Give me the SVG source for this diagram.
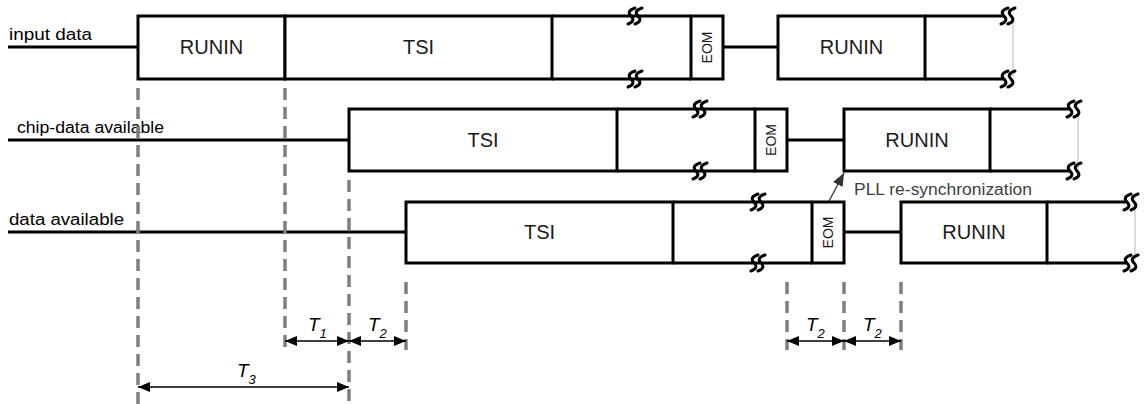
<svg xmlns="http://www.w3.org/2000/svg" width="1145" height="404" viewBox="0 0 1145 404">
<defs>
<style>
.box{fill:#fff;stroke:#000;stroke-width:3}
.ln{stroke:#000;stroke-width:3;fill:none}
.thin{stroke:#b8b8b8;stroke-width:1}
.dash{stroke:#7f7f7f;stroke-width:3.5;stroke-dasharray:12 7;fill:none}
.dim{stroke:#000;stroke-width:1.3;marker-start:url(#ah);marker-end:url(#ah)}
.bt{font-family:"Liberation Sans",Arial,sans-serif;font-size:20px;fill:#1a1a1a;text-anchor:middle}
.lbl{font-family:"Liberation Sans",Arial,sans-serif;font-size:16px;fill:#000}
.eom{font-family:"Liberation Sans",Arial,sans-serif;font-size:14px;fill:#1a1a1a;text-anchor:middle}
.tl{font-family:"Liberation Sans",Arial,sans-serif;font-style:italic;font-size:19px;fill:#000}
.sub{font-size:13px}
.brk{stroke:#000;stroke-width:3;fill:none;stroke-linecap:round}
.pll{font-family:"Liberation Sans",Arial,sans-serif;font-size:16px;fill:#404040}
</style>
<marker id="ah" viewBox="0 0 12 10" refX="12" refY="5" markerWidth="12" markerHeight="10" markerUnits="userSpaceOnUse" orient="auto-start-reverse"><path d="M0,0 L12,5 L0,10 Z" fill="#000"/></marker>
<marker id="pa" viewBox="0 0 12 10" refX="12" refY="5" markerWidth="13" markerHeight="11" markerUnits="userSpaceOnUse" orient="auto"><path d="M0,0 L12,5 L0,10 Z" fill="#333"/></marker>
<g id="bk" class="brk"><path d="M4,-8 Q-5,-5 0,0 Q5,5 -3,8"/><path d="M11,-8 Q2,-5 7,0 Q12,5 4,8"/></g>
</defs>
<rect width="1145" height="404" fill="#fff"/>

<g id="labels">
<text class="lbl" x="9" y="40" textLength="83" lengthAdjust="spacingAndGlyphs">input data</text>
<text class="lbl" x="17" y="133" textLength="147" lengthAdjust="spacingAndGlyphs">chip-data available</text>
<text class="lbl" x="9" y="225" textLength="115" lengthAdjust="spacingAndGlyphs">data available</text>
</g>

<g id="connectors">
<line class="ln" x1="8" y1="47" x2="138" y2="47"/>
<line class="ln" x1="723" y1="47" x2="778" y2="47"/>
<line class="ln" x1="8" y1="140" x2="349" y2="140"/>
<line class="ln" x1="787" y1="140" x2="844" y2="140"/>
<line class="ln" x1="8" y1="232" x2="406" y2="232"/>
<line class="ln" x1="844" y1="232" x2="901" y2="232"/>
<line x1="829" y1="201" x2="844" y2="173" stroke="#333" stroke-width="1.3" marker-end="url(#pa)"/>
</g>

<g id="row1">
<g id="r1-runin"><rect class="box" x="138" y="16" width="147" height="63"/><text class="bt" x="211.5" y="54">RUNIN</text></g>
<g id="r1-tsi"><rect class="box" x="285" y="16" width="267" height="63"/><text class="bt" x="418.5" y="54">TSI</text></g>
<g id="r1-seg"><path class="ln" d="M552,16 H691 M552,79 H691"/><use href="#bk" x="631" y="16"/><use href="#bk" x="631" y="79"/></g>
<g id="r1-eom"><rect class="box" x="691" y="16" width="32" height="63"/><text class="eom" transform="translate(712,47.5) rotate(-90)">EOM</text></g>
<g id="r1-runin2"><rect class="box" x="778" y="16" width="147" height="63"/><text class="bt" x="851.5" y="54">RUNIN</text></g>
<g id="r1-tail"><path class="ln" d="M925,16 H1004 M925,79 H1004"/><line class="thin" x1="1013" y1="18" x2="1013" y2="77"/><use href="#bk" x="1004" y="16"/><use href="#bk" x="1004" y="79"/></g>
</g>

<g id="row2">
<g id="r2-tsi"><rect class="box" x="349" y="109" width="268" height="62"/><text class="bt" x="483" y="147">TSI</text></g>
<g id="r2-seg"><path class="ln" d="M617,109 H755 M617,171 H755"/><use href="#bk" x="696" y="109"/><use href="#bk" x="696" y="171"/></g>
<g id="r2-eom"><rect class="box" x="755" y="109" width="32" height="62"/><text class="eom" transform="translate(776,140) rotate(-90)">EOM</text></g>
<g id="r2-runin"><rect class="box" x="844" y="109" width="146" height="62"/><text class="bt" x="917" y="147">RUNIN</text></g>
<g id="r2-tail"><path class="ln" d="M990,109 H1070 M990,171 H1070"/><line class="thin" x1="1078" y1="111" x2="1078" y2="169"/><use href="#bk" x="1070" y="109"/><use href="#bk" x="1070" y="171"/></g>
</g>

<g id="row3">
<g id="r3-tsi"><rect class="box" x="406" y="202" width="267" height="61"/><text class="bt" x="539.5" y="239">TSI</text></g>
<g id="r3-seg"><path class="ln" d="M673,202 H812 M673,263 H812"/><use href="#bk" x="754" y="202"/><use href="#bk" x="754" y="263"/></g>
<g id="r3-eom"><rect class="box" x="812" y="202" width="32" height="61"/><text class="eom" transform="translate(833,232.5) rotate(-90)">EOM</text></g>
<g id="r3-runin"><rect class="box" x="901" y="202" width="146" height="61"/><text class="bt" x="974" y="239">RUNIN</text></g>
<g id="r3-tail"><path class="ln" d="M1047,202 H1127 M1047,263 H1127"/><line class="thin" x1="1135" y1="204" x2="1135" y2="261"/><use href="#bk" x="1127" y="202"/><use href="#bk" x="1127" y="263"/></g>
</g>

<g id="pll-label"><text class="pll" x="854" y="195" textLength="178" lengthAdjust="spacingAndGlyphs">PLL re-synchronization</text></g>

<g id="guides">
<line class="dash" x1="138" y1="88" x2="138" y2="404"/>
<line class="dash" x1="285" y1="88" x2="285" y2="350"/>
<line class="dash" x1="349" y1="180" x2="349" y2="404"/>
<line class="dash" x1="406" y1="282" x2="406" y2="350"/>
<line class="dash" x1="787" y1="282" x2="787" y2="350"/>
<line class="dash" x1="844" y1="282" x2="844" y2="350"/>
<line class="dash" x1="901" y1="282" x2="901" y2="350"/>
</g>

<g id="dimensions">
<line class="dim" x1="285" y1="341" x2="349" y2="341"/>
<line class="dim" x1="349" y1="341" x2="406" y2="341"/>
<line class="dim" x1="138" y1="387" x2="349" y2="387"/>
<line class="dim" x1="787" y1="341" x2="844" y2="341"/>
<line class="dim" x1="844" y1="341" x2="901" y2="341"/>
<text class="tl" x="308" y="331">T<tspan class="sub" dy="7">1</tspan></text>
<text class="tl" x="368" y="331">T<tspan class="sub" dy="7">2</tspan></text>
<text class="tl" x="237" y="377">T<tspan class="sub" dy="7">3</tspan></text>
<text class="tl" x="806" y="331">T<tspan class="sub" dy="7">2</tspan></text>
<text class="tl" x="863" y="331">T<tspan class="sub" dy="7">2</tspan></text>
</g>
</svg>
